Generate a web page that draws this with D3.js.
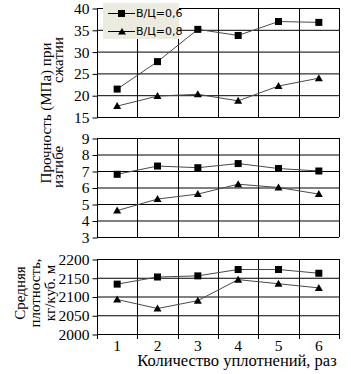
<!DOCTYPE html>
<html>
<head>
<meta charset="utf-8">
<script src="https://cdn.jsdelivr.net/npm/d3@7"></script>
<style>
  body { margin: 0; background: #fff; }
  svg { display: block; }
  .tick text { font-family: "Liberation Serif", "Times New Roman", serif; font-size: 15.5px; fill: #000; }
  .title { font-family: "Liberation Serif", "Times New Roman", serif; font-size: 15px; fill: #000; }
</style>
</head>
<body>
<svg id="chart" width="351" height="374"></svg>
<script>
// number of compactions
const passes = [1, 2, 3, 4, 5, 6];
const seriesNames = ["В/Ц=0,6", "В/Ц=0,8"];

// compressive strength, MPa
const compress06 = [21.4, 27.7, 35.1, 33.7, 36.9, 36.7];
const compress08 = [17.5, 19.8, 20.2, 18.7, 22.1, 23.9];
// bending strength, MPa
const bend06 = [6.8, 7.3, 7.2, 7.45, 7.15, 7.0];
const bend08 = [4.6, 5.3, 5.6, 6.2, 6.0, 5.6];
// mean density, kg/m3
const dens06 = [2133, 2152, 2155, 2172, 2172, 2162];
const dens08 = [2092, 2068, 2089, 2145, 2134, 2123];

const compressTicks = [15, 20, 25, 30, 35, 40];
const bendTicks = [3, 4, 5, 6, 7, 8, 9];
const densTicks = [2000, 2050, 2100, 2150, 2200];

const svg = d3.select("#chart");
const left = 97, right = 339;

let x = d3.scaleBand().domain(passes).range([left, right]).paddingInner(0).paddingOuter(0);

function panel(top, bottom, ticks, s06, s08, showX) {
  let y = d3.scaleLinear().domain([ticks[0], ticks[ticks.length - 1]]).range([bottom, top]);
  let g = svg.append("g");

  // horizontal grid
  g.selectAll(".hgrid").data(ticks).enter().append("line")
    .attr("x1", left).attr("x2", right)
    .attr("y1", d => y(d) + 0.5).attr("y2", d => y(d) + 0.5)
    .attr("stroke", "#000").attr("stroke-width", 1);

  // vertical grid at band edges
  let edges = passes.map(d => x(d)).concat([right]);
  g.selectAll(".vgrid").data(edges).enter().append("line")
    .attr("x1", d => Math.round(d) + 0.5).attr("x2", d => Math.round(d) + 0.5)
    .attr("y1", top).attr("y2", bottom + (showX ? 5 : 0))
    .attr("stroke", "#000").attr("stroke-width", 1);

  let yAxis = d3.axisLeft(y).tickValues(ticks).tickSize(5).tickPadding(3).tickFormat(d3.format("d"));
  g.append("g")
    .attr("transform", `translate(${left + 0.5},0.5)`)
    .call(yAxis)
    .call(a => a.select(".domain").remove())
    .selectAll("line").attr("stroke", "#000");

  if (showX) {
    let xAxis = d3.axisBottom(x).tickSize(0).tickPadding(6);
    g.append("g")
      .attr("transform", `translate(0,${bottom})`)
      .call(xAxis)
      .call(a => a.select(".domain").remove());
  }

  const line = d3.line()
    .x((d, i) => x(passes[i]) + x.bandwidth() / 2)
    .y(d => y(d));

  [s06, s08].forEach((s, k) => {
    g.append("path").attr("d", line(s))
      .attr("fill", "none").attr("stroke", "#4a4a4a").attr("stroke-width", 1);
    s.forEach((v, i) => {
      let cx = x(passes[i]) + x.bandwidth() / 2, cy = y(v);
      if (k === 0) {
        g.append("rect").attr("x", cx - 3.5).attr("y", cy - 3.5)
          .attr("width", 7).attr("height", 7).attr("fill", "#000");
      } else {
        g.append("path").attr("d", `M${cx - 4},${cy + 3}L${cx + 4},${cy + 3}L${cx},${cy - 4}Z`)
          .attr("fill", "#000");
      }
    });
  });
}

panel(8, 117, compressTicks, compress06, compress08, false);
panel(138, 237, bendTicks, bend06, bend08, false);
panel(259, 334, densTicks, dens06, dens08, true);

// legend
let lg = svg.append("g");
lg.append("rect").attr("x", 103).attr("y", 3).attr("width", 76).attr("height", 36)
  .attr("fill", "#ecebe0");
seriesNames.forEach((name, k) => {
  let cy = 13 + k * 18;
  lg.append("line").attr("x1", 108).attr("x2", 135).attr("y1", cy + 0.5).attr("y2", cy + 0.5)
    .attr("stroke", "#000").attr("stroke-width", 1);
  if (k === 0) {
    lg.append("rect").attr("x", 118).attr("y", cy - 3).attr("width", 7).attr("height", 7).attr("fill", "#000");
  } else {
    lg.append("path").attr("d", `M${118},${cy + 3.5}L${126},${cy + 3.5}L${122},${cy - 3}Z`).attr("fill", "#000");
  }
  lg.append("text").attr("x", 136).attr("y", cy + 4)
    .style("font-family", "Tahoma, 'DejaVu Sans', sans-serif").style("font-size", "11px")
    .text(name);
});

// axis titles
svg.append("text").attr("class", "title")
  .attr("transform", "translate(51,113) rotate(-90)")
  .attr("text-anchor", "middle").text("Прочность (МПа) при");
svg.append("text").attr("class", "title")
  .attr("transform", "translate(63,37) rotate(-90)")
  .attr("text-anchor", "end").text("сжатии");
svg.append("text").attr("class", "title")
  .attr("transform", "translate(63,188) rotate(-90)")
  .attr("text-anchor", "start").text("изгибе");

const densTitle = ["Средняя", "плотность,", "кг/куб. м"];
densTitle.forEach((t, i) => {
  svg.append("text").attr("class", "title")
    .attr("transform", `translate(${25 + i * 15},293) rotate(-90)`)
    .attr("text-anchor", "middle").text(t);
});

svg.append("text").attr("class", "title")
  .attr("x", 237).attr("y", 366).attr("text-anchor", "middle")
  .style("font-size", "16.5px")
  .text("Количество уплотнений, раз");
</script>
</body>
</html>
